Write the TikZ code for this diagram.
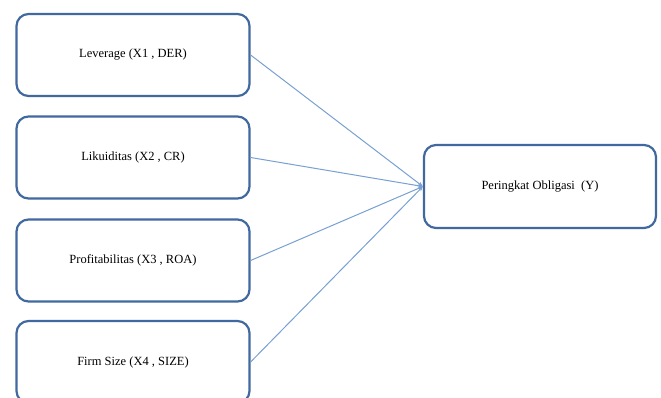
\documentclass[tikz,border=0pt]{standalone}
\usepackage{fontspec}
\setmainfont{Liberation Serif}
\usetikzlibrary{arrows.meta}
\definecolor{boxblue}{RGB}{65,105,160}
\definecolor{lineblue}{RGB}{120,160,210}
\begin{document}
\begin{tikzpicture}[x=1pt,y=-1pt,
  varbox/.style={draw=boxblue,line width=2.2pt,rounded corners=12pt,fill=white,
    minimum width=233pt,minimum height=82pt,inner sep=0pt,font=\fontsize{12.5}{14}\selectfont},
  link/.style={draw=lineblue,line width=1pt,-{Stealth[length=5pt,width=4pt]}}]
\useasboundingbox (0,0) rectangle (661,398);
\clip (0,0) rectangle (661,398);
\node[varbox] (b1) at (133,55) {Leverage (X1 , DER)};
\node[varbox] (b2) at (133,157.5) {Likuiditas (X2 , CR)};
\node[varbox] (b3) at (133,260.5) {Profitabilitas (X3 , ROA)};
\node[varbox] (b4) at (133,362) {Firm Size (X4 , SIZE)};
\node[varbox,minimum width=232pt,minimum height=83pt] (y) at (540,186.5) {Peringkat Obligasi~ (Y)};
\draw[link] (b1.east) -- (y.west);
\draw[link] (b2.east) -- (y.west);
\draw[link] (b3.east) -- (y.west);
\draw[link] (b4.east) -- (y.west);
\end{tikzpicture}
\end{document}
